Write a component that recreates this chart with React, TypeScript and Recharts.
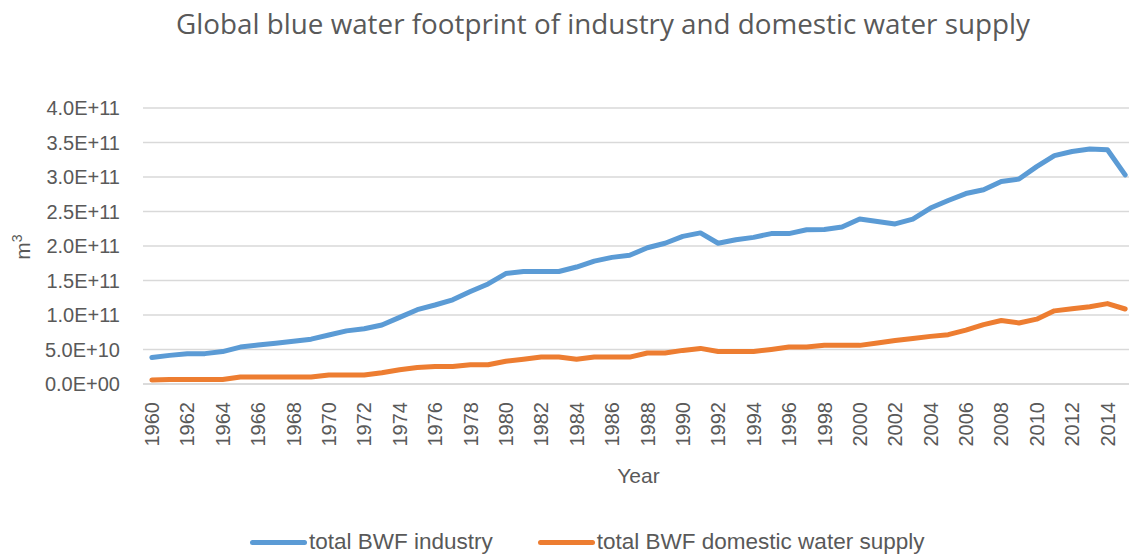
import React from 'react';
import { LineChart, Line, XAxis, YAxis, CartesianGrid, Legend, Label } from 'recharts';

const years = [
  1960, 1961, 1962, 1963, 1964, 1965, 1966, 1967, 1968, 1969,
  1970, 1971, 1972, 1973, 1974, 1975, 1976, 1977, 1978, 1979,
  1980, 1981, 1982, 1983, 1984, 1985, 1986, 1987, 1988, 1989,
  1990, 1991, 1992, 1993, 1994, 1995, 1996, 1997, 1998, 1999,
  2000, 2001, 2002, 2003, 2004, 2005, 2006, 2007, 2008, 2009,
  2010, 2011, 2012, 2013, 2014, 2015,
];

// m3
const industry = [
  3.85e10, 4.15e10, 4.4e10, 4.4e10, 4.7e10, 5.35e10, 5.65e10, 5.9e10, 6.2e10, 6.5e10,
  7.1e10, 7.7e10, 8.0e10, 8.55e10, 9.65e10, 1.077e11, 1.145e11, 1.22e11, 1.34e11, 1.45e11,
  1.6e11, 1.63e11, 1.63e11, 1.63e11, 1.695e11, 1.78e11, 1.835e11, 1.865e11, 1.975e11, 2.04e11,
  2.14e11, 2.19e11, 2.04e11, 2.09e11, 2.125e11, 2.18e11, 2.18e11, 2.235e11, 2.24e11, 2.275e11,
  2.39e11, 2.355e11, 2.32e11, 2.39e11, 2.55e11, 2.66e11, 2.76e11, 2.815e11, 2.935e11, 2.97e11,
  3.15e11, 3.31e11, 3.37e11, 3.405e11, 3.395e11, 3.03e11,
];

const domestic = [
  5.8e9, 6.5e9, 6.5e9, 6.5e9, 6.5e9, 1.0e10, 1.0e10, 1.0e10, 1.0e10, 1.0e10,
  1.3e10, 1.3e10, 1.3e10, 1.63e10, 2.07e10, 2.4e10, 2.55e10, 2.55e10, 2.8e10, 2.8e10,
  3.3e10, 3.6e10, 3.9e10, 3.9e10, 3.6e10, 3.9e10, 3.9e10, 3.9e10, 4.5e10, 4.5e10,
  4.87e10, 5.16e10, 4.7e10, 4.7e10, 4.7e10, 5.0e10, 5.35e10, 5.35e10, 5.6e10, 5.6e10,
  5.6e10, 5.95e10, 6.3e10, 6.6e10, 6.9e10, 7.15e10, 7.8e10, 8.6e10, 9.2e10, 8.85e10,
  9.4e10, 1.06e11, 1.09e11, 1.12e11, 1.165e11, 1.087e11,
];

const seriesNames = ['total BWF industry', 'total BWF domestic water supply'];

const yearTicks = [
  1960, 1962, 1964, 1966, 1968, 1970, 1972, 1974, 1976, 1978, 1980, 1982, 1984, 1986,
  1988, 1990, 1992, 1994, 1996, 1998, 2000, 2002, 2004, 2006, 2008, 2010, 2012, 2014,
];

const valueTicks = [0, 5e10, 1e11, 1.5e11, 2e11, 2.5e11, 3e11, 3.5e11, 4e11];

const data = years.map((year, i) => ({
  year,
  industry: industry[i],
  domestic: domestic[i],
}));

const TEXT = '#595959';
const FONT = '"Liberation Sans", Arial, sans-serif';

const sci = (v: number) => {
  if (v === 0) return '0.0E+00';
  const [m, e] = v.toExponential(1).split('e');
  const n = parseInt(e, 10);
  return `${m}E${n < 0 ? '-' : '+'}${String(Math.abs(n)).padStart(2, '0')}`;
};

const YearTick = (props: any) => {
  const { x, y, payload } = props;
  return (
    <text
      x={x}
      y={y}
      dy="0.36em"
      transform={`rotate(-90 ${x} ${y})`}
      textAnchor="end"
      fill={TEXT}
      fontSize={20}
      fontFamily={FONT}
    >
      {payload.value}
    </text>
  );
};

const UnitLabel = () => (
  <text
    x={30}
    y={247}
    transform="rotate(-90 30 247)"
    textAnchor="middle"
    fill={TEXT}
    fontSize={21}
    fontFamily={FONT}
  >
    m<tspan dy={-8} fontSize={14}>3</tspan>
  </text>
);

const LegendRow = (props: any) => {
  const items = [...(props.payload || [])].sort(
    (a: any, b: any) => seriesNames.indexOf(a.value) - seriesNames.indexOf(b.value)
  );
  return (
    <div style={{ display: 'flex', alignItems: 'center', fontFamily: FONT, fontSize: 22.5, lineHeight: '22px', color: TEXT }}>
      {items.map((p: any, i: number) => (
        <div key={p.value} style={{ display: 'flex', alignItems: 'center', marginLeft: i === 0 ? 0 : 45 }}>
          <span style={{ width: 57, height: 5, borderRadius: 3, background: p.color, marginRight: 2 }} />
          <span>{p.value}</span>
        </div>
      ))}
    </div>
  );
};

export default function App() {
  return (
    <div style={{ position: 'absolute', left: 0, top: 0, width: 1129, height: 556, overflow: 'hidden', background: '#fff' }}>
      <svg width={1129} height={60} style={{ position: 'absolute', left: 0, top: 0 }}>
        <text x={603} y={34} textAnchor="middle" fill={TEXT} fontSize={27.8} fontFamily='"Open Sans", sans-serif'>
          Global blue water footprint of industry and domestic water supply
        </text>
      </svg>
      <div style={{ position: 'absolute', left: 0, top: 0 }}>
        <LineChart width={1140} height={556} data={data} margin={{ top: 108, right: 6, left: 0, bottom: 0 }}>
          <CartesianGrid vertical={false} stroke="#d9d9d9" strokeWidth={1.3} />
          <XAxis
            dataKey="year"
            type="number"
            domain={[1959.5, 2015.5]}
            ticks={yearTicks}
            interval={0}
            height={172}
            tickLine={false}
            tickSize={0}
            tickMargin={18}
            axisLine={{ stroke: '#d9d9d9', strokeWidth: 1.3 }}
            tick={<YearTick />}
            allowDataOverflow
          >
            <Label value="Year" position="insideTop" offset={84} fill={TEXT} fontSize={21} fontFamily={FONT} />
          </XAxis>
          <YAxis
            type="number"
            domain={[0, 4e11]}
            ticks={valueTicks}
            width={143}
            axisLine={false}
            tickLine={false}
            tickSize={6}
            tickMargin={17}
            tickFormatter={sci}
            tick={{ fill: TEXT, fontSize: 20, fontFamily: FONT }}
            label={{ content: <UnitLabel /> }}
          />
          <Legend
            layout="horizontal"
            verticalAlign="middle"
            align="center"
            wrapperStyle={{ top: 531, left: 250, width: 'auto' }}
            content={<LegendRow />}
          />
          <Line
            dataKey="industry"
            name={seriesNames[0]}
            stroke="#5b9bd5"
            strokeWidth={5}
            strokeLinecap="round"
            strokeLinejoin="round"
            dot={false}
            isAnimationActive={false}
          />
          <Line
            dataKey="domestic"
            name={seriesNames[1]}
            stroke="#ed7d31"
            strokeWidth={5}
            strokeLinecap="round"
            strokeLinejoin="round"
            dot={false}
            isAnimationActive={false}
          />
        </LineChart>
      </div>
    </div>
  );
}
